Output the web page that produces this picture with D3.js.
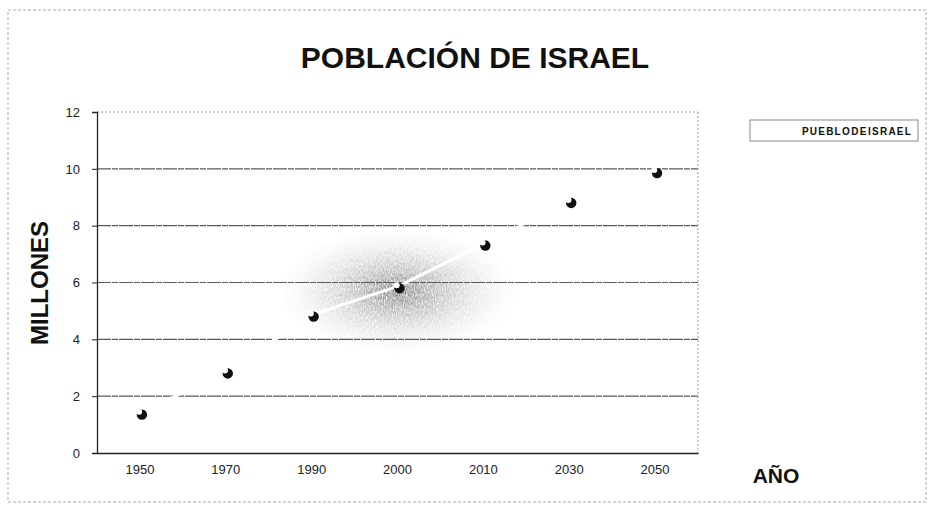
<!DOCTYPE html>
<html>
<head>
<meta charset="utf-8">
<script src="https://cdn.jsdelivr.net/npm/d3@7"></script>
<style>
  html, body { margin: 0; padding: 0; background: #fff; }
  text { font-family: "Liberation Sans", Arial, sans-serif; }
</style>
</head>
<body>
<div id="chart"></div>
<script>
// ---------------------- data ---------------------
var years = ["1950", "1970", "1990", "2000", "2010", "2030", "2050"];
var millones = [1.35, 2.8, 4.8, 5.8, 7.3, 8.8, 9.85];
var yTicks = [0, 2, 4, 6, 8, 10, 12];
var seriesName = "PUEBLO DE ISRAEL";

// ---------------------- svg ---------------------
var svg = d3.select("#chart")
     .append("svg")
     .attr("width", 929)
     .attr("height", 505);

var plotLeft = 97, plotRight = 698, plotTop = 112, plotBottom = 453;

var x = d3.scaleBand().domain(years).range([plotLeft, plotRight]);
var y = d3.scaleLinear().domain([0, 12]).range([plotBottom, plotTop]);

// outer frame
svg.append("rect")
     .attr("x", 8).attr("y", 10)
     .attr("width", 918).attr("height", 492)
     .attr("fill", "none")
     .attr("stroke", "#aaa")
     .attr("stroke-dasharray", "3,2");

// title
svg.append("text")
     .text("POBLACIÓN DE ISRAEL")
     .attr("x", 475).attr("y", 68)
     .attr("text-anchor", "middle")
     .style("font-size", "30px")
     .style("font-weight", "bold")
     .attr("fill", "#111");

// grey speckled smudge behind the middle (scan shadow)
var defs = svg.append("defs");
var grad = defs.append("radialGradient").attr("id", "smudge");
grad.append("stop").attr("offset", "0%").attr("stop-color", "#666").attr("stop-opacity", 0.8);
grad.append("stop").attr("offset", "55%").attr("stop-color", "#999").attr("stop-opacity", 0.35);
grad.append("stop").attr("offset", "100%").attr("stop-color", "#ccc").attr("stop-opacity", 0);
var filt = defs.append("filter").attr("id", "speckle");
filt.append("feTurbulence").attr("type", "fractalNoise").attr("baseFrequency", "0.9 0.35")
     .attr("numOctaves", 2).attr("seed", 3).attr("result", "noise");
filt.append("feColorMatrix").attr("in", "noise").attr("type", "matrix")
     .attr("values", "0 0 0 0 1  0 0 0 0 1  0 0 0 0 1  0 0 0 -1.6 1.1").attr("result", "holes");
filt.append("feComposite").attr("in", "SourceGraphic").attr("in2", "holes").attr("operator", "out");
svg.append("ellipse")
     .attr("cx", x("2000") + x.bandwidth() / 2)
     .attr("cy", y(5.7))
     .attr("rx", 120).attr("ry", 62)
     .attr("fill", "url(#smudge)")
     .attr("filter", "url(#speckle)");

// gridlines
svg.selectAll("line.grid")
     .data(yTicks.filter(function (d) { return d > 0; }))
     .enter()
     .append("line")
     .attr("class", "grid")
     .attr("x1", plotLeft).attr("x2", plotRight)
     .attr("y1", function (d) { return y(d); })
     .attr("y2", function (d) { return y(d); })
     .attr("stroke", function (d) { return d === 12 ? "#999" : "#5a5a5a"; })
     .attr("stroke-width", function (d) { return d === 12 ? 1 : 1.2; })
     .attr("stroke-dasharray", function (d) { return d === 12 ? "2,2" : "14,1,6,1"; });

// right border of plot area
svg.append("line")
     .attr("x1", plotRight).attr("x2", plotRight)
     .attr("y1", plotTop).attr("y2", plotBottom)
     .attr("stroke", "#999")
     .attr("stroke-dasharray", "2,2");

// series line (white, only shows where it cuts the grid)
var line = d3.line()
     .x(function (d, i) { return x(years[i]) + x.bandwidth() / 2 + 1; })
     .y(function (d) { return y(d) - 2; });
svg.append("path")
     .datum(millones)
     .attr("d", line)
     .attr("fill", "none")
     .attr("stroke", "#fff")
     .attr("stroke-width", 3);

// axes
var yAxis = d3.axisLeft(y).tickValues(yTicks).tickSize(5).tickPadding(12);
var gy = svg.append("g")
     .attr("transform", "translate(" + plotLeft + ",0)")
     .call(yAxis);
gy.select(".domain").attr("stroke", "#222").attr("stroke-width", 1.3);
gy.selectAll(".tick line").attr("stroke", "#222");
gy.selectAll(".tick text")
     .style("font-size", "13px")
     .attr("fill", "#222")
     .style("font-family", "'Liberation Sans', Arial, sans-serif");

var xAxis = d3.axisBottom(x).tickSize(0).tickPadding(12);
var gx = svg.append("g")
     .attr("transform", "translate(0," + plotBottom + ")")
     .call(xAxis);
gx.select(".domain").attr("stroke", "#222").attr("stroke-width", 1.6);
gx.selectAll(".tick text")
     .style("font-size", "13px")
     .attr("fill", "#222")
     .style("font-family", "'Liberation Sans', Arial, sans-serif");

// markers
var pts = svg.selectAll("g.pt")
     .data(millones)
     .enter()
     .append("g")
     .attr("class", "pt")
     .attr("transform", function (d, i) {
          return "translate(" + (x(years[i]) + x.bandwidth() / 2 + 2) + "," + y(d) + ")";
     });
pts.append("circle").attr("r", 5.2).attr("fill", "#111");
pts.append("circle").attr("r", 3).attr("cx", -2.8).attr("cy", -3).attr("fill", "#fff");

// axis titles
svg.append("text")
     .text("MILLONES")
     .attr("transform", "translate(48,283) rotate(-90)")
     .attr("text-anchor", "middle")
     .style("font-size", "24px")
     .style("font-weight", "bold")
     .attr("fill", "#111");

svg.append("text")
     .text("AÑO")
     .attr("x", 776).attr("y", 483)
     .attr("text-anchor", "middle")
     .style("font-size", "21px")
     .style("font-weight", "bold")
     .attr("fill", "#111");

// legend
svg.append("rect")
     .attr("x", 750).attr("y", 120)
     .attr("width", 168).attr("height", 21)
     .attr("fill", "#fff")
     .attr("stroke", "#888");
svg.append("text")
     .text(seriesName)
     .attr("x", 912).attr("y", 134.5)
     .attr("text-anchor", "end")
     .style("font-size", "10px")
     .style("font-weight", "bold")
     .style("letter-spacing", "1.2px")
     .style("word-spacing", "-3.5px")
     .attr("fill", "#111");
</script>
</body>
</html>
